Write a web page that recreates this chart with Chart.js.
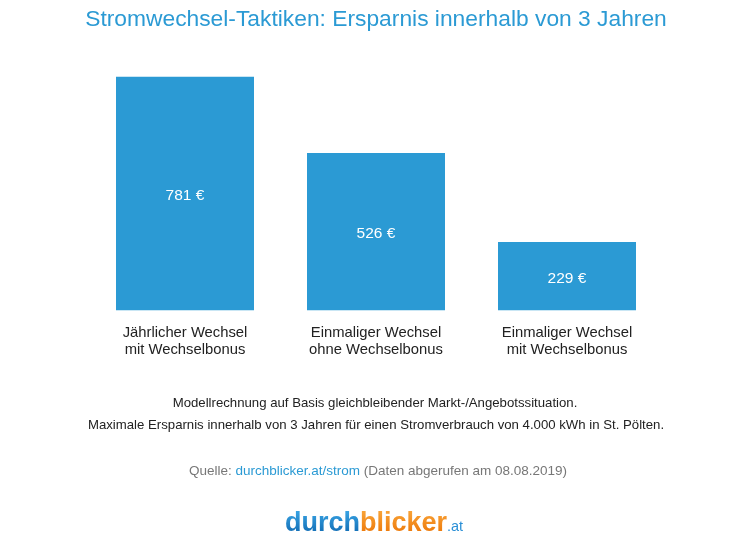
<!DOCTYPE html>
<html lang="de">
<head>
<meta charset="utf-8">
<title>Stromwechsel-Taktiken</title>
<script src="https://cdn.jsdelivr.net/npm/chart.js@4.4.1/dist/chart.umd.min.js"></script>
<style>
  html, body { margin: 0; padding: 0; background: #fff; }
  #wrap { width: 750px; height: 541px; position: relative; }
</style>
</head>
<body>
<div id="wrap"><canvas id="chart" width="750" height="541"></canvas></div>
<script>
// Daten
const kategorien = [
    ['Jährlicher Wechsel', 'mit Wechselbonus'],
    ['Einmaliger Wechsel', 'ohne Wechselbonus'],
    ['Einmaliger Wechsel', 'mit Wechselbonus']
];
const ersparnis = [781, 526, 229];

const titel = 'Stromwechsel-Taktiken: Ersparnis innerhalb von 3 Jahren';
const hinweise = [
    'Modellrechnung auf Basis gleichbleibender Markt-/Angebotssituation.',
    'Maximale Ersparnis innerhalb von 3 Jahren für einen Stromverbrauch von 4.000 kWh in St. Pölten.'
];
const quelle = ['Quelle: ', 'durchblicker.at/strom', ' (Daten abgerufen am 08.08.2019)'];

const blau = '#2b9ad4';
const schrift = '"Liberation Sans", Arial, Helvetica, sans-serif';

// Werte in die Balken schreiben
const wertLabels = {
    id: 'wertLabels',
    afterDatasetsDraw(chart) {
        const ctx = chart.ctx;
        const meta = chart.getDatasetMeta(0);
        ctx.save();
        ctx.fillStyle = '#fff';
        ctx.font = '15.5px ' + schrift;
        ctx.textAlign = 'center';
        ctx.textBaseline = 'middle';
        meta.data.forEach((bar, i) => {
            const mitte = (bar.y + bar.base) / 2;
            ctx.fillText(ersparnis[i] + ' €', bar.x, mitte + 2);
        });
        ctx.restore();
    }
};

// Titel, Hinweise, Quelle und Logo
const texte = {
    id: 'texte',
    afterDraw(chart) {
        const ctx = chart.ctx;
        const mitte = 375;
        ctx.save();
        ctx.textAlign = 'center';
        ctx.textBaseline = 'middle';

        ctx.fillStyle = blau;
        ctx.font = '22.8px ' + schrift;
        ctx.fillText(titel, 376, 20);

        ctx.fillStyle = '#222';
        ctx.font = '13.2px ' + schrift;
        ctx.fillText(hinweise[0], mitte, 403);
        ctx.fillText(hinweise[1], 376, 425);

        // Quelle mit Link-Farbe
        ctx.font = '13.5px ' + schrift;
        ctx.textAlign = 'left';
        const breiten = quelle.map(t => ctx.measureText(t).width);
        let x = 378 - breiten.reduce((a, b) => a + b, 0) / 2;
        const farben = ['#777', blau, '#777'];
        quelle.forEach((t, i) => {
            ctx.fillStyle = farben[i];
            ctx.fillText(t, x, 471);
            x += breiten[i];
        });

        // Logo
        ctx.textBaseline = 'alphabetic';
        ctx.font = 'bold 28px ' + schrift;
        const wDurch = ctx.measureText('durch').width;
        const wBlicker = ctx.measureText('blicker').width;
        ctx.font = '15px ' + schrift;
        const wAt = ctx.measureText('.at').width;
        const gesamt = wDurch + wBlicker + wAt;
        const skal = 178 / gesamt;
        ctx.translate(285, 531);
        ctx.scale(skal, 1);
        ctx.font = 'bold 28px ' + schrift;
        const gBlau = ctx.createLinearGradient(0, -21, 0, 0);
        gBlau.addColorStop(0, '#3aa6e6');
        gBlau.addColorStop(1, '#1672b9');
        const gOrange = ctx.createLinearGradient(0, -21, 0, 0);
        gOrange.addColorStop(0, '#f9a53a');
        gOrange.addColorStop(1, '#ee7d0e');
        ctx.fillStyle = gBlau;
        ctx.fillText('durch', 0, 0);
        ctx.fillStyle = gOrange;
        ctx.fillText('blicker', wDurch, 0);
        ctx.fillStyle = '#2a8fd6';
        ctx.font = '15px ' + schrift;
        ctx.fillText('.at', wDurch + wBlicker, 0);
        ctx.restore();
    }
};

const ctx = document.getElementById('chart').getContext('2d');
new Chart(ctx, {
    type: 'bar',
    data: {
        labels: kategorien,
        datasets: [{
            data: ersparnis,
            backgroundColor: blau,
            borderWidth: 0,
            barPercentage: 0.7225,
            categoryPercentage: 1
        }]
    },
    options: {
        responsive: false,
        animation: false,
        events: [],
        layout: {
            padding: { top: 71, left: 89.5, right: 87.5, bottom: 176.4 }
        },
        plugins: {
            legend: { display: false },
            tooltip: { enabled: false }
        },
        scales: {
            x: {
                grid: { display: false },
                border: { display: false },
                ticks: {
                    padding: 6,
                    color: '#222',
                    font: { size: 14.8, family: schrift, lineHeight: 1.15 }
                }
            },
            y: {
                display: false,
                min: 0,
                max: 800
            }
        }
    },
    plugins: [wertLabels, texte]
});
</script>
</body>
</html>
